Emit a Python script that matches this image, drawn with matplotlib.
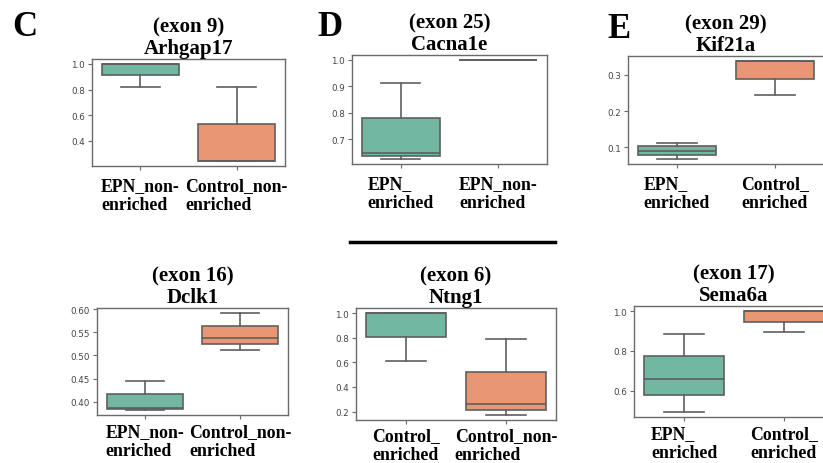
import matplotlib
matplotlib.use("Agg")
import matplotlib.pyplot as plt
from matplotlib.lines import Line2D

# box stats: whislo, q1, med, q3, whishi per group
arhgap17_labels = ["EPN_non-\nenriched", "Control_non-\nenriched"]
arhgap17_stats = [[0.82, 0.91, 1.0, 1.0, 1.0], [0.242, 0.242, 0.245, 0.53, 0.82]]
arhgap17_yticks = [0.4, 0.6, 0.8, 1.0]

cacna1e_labels = ["EPN_\nenriched", "EPN_non-\nenriched"]
cacna1e_stats = [[0.624, 0.635, 0.648, 0.781, 0.911], [1.0, 1.0, 1.0, 1.0, 1.0]]
cacna1e_yticks = [0.7, 0.8, 0.9, 1.0]

kif21a_labels = ["EPN_\nenriched", "Control_\nenriched"]
kif21a_stats = [[0.068, 0.079, 0.09, 0.1036, 0.1136], [0.243, 0.289, 0.338, 0.338, 0.338]]
kif21a_yticks = [0.1, 0.2, 0.3]

dclk1_labels = ["EPN_non-\nenriched", "Control_non-\nenriched"]
dclk1_stats = [[0.382, 0.385, 0.386, 0.417, 0.445], [0.512, 0.524, 0.538, 0.564, 0.592]]
dclk1_yticks = [0.40, 0.45, 0.50, 0.55, 0.60]

ntng1_labels = ["Control_\nenriched", "Control_non-\nenriched"]
ntng1_stats = [[0.614, 0.808, 1.0, 1.0, 1.0], [0.173, 0.214, 0.263, 0.523, 0.789]]
ntng1_yticks = [0.2, 0.4, 0.6, 0.8, 1.0]

sema6a_labels = ["EPN_\nenriched", "Control_\nenriched"]
sema6a_stats = [[0.492, 0.575, 0.658, 0.772, 0.885], [0.892, 0.945, 1.0, 1.0, 1.0]]
sema6a_yticks = [0.6, 0.8, 1.0]

titles = ["(exon 9)\nArhgap17", "(exon 25)\nCacna1e", "(exon 29)\nKif21a",
          "(exon 16)\nDclk1", "(exon 6)\nNtng1", "(exon 17)\nSema6a"]

colors = ["#71b7a1", "#e99675"]
line_c = "#5f5f5f"
W, H = 823, 464

fig = plt.figure(figsize=(W / 100, H / 100), dpi=100)


def add_panel(px, stats, labels, yticks, fmt, title, xpad=5):
    x0, y0, x1, y1 = px
    ax = fig.add_axes([x0 / W, 1 - y1 / H, (x1 - x0) / W, (y1 - y0) / H])
    bx = []
    for s, lab in zip(stats, labels):
        bx.append(dict(whislo=s[0], q1=s[1], med=s[2], q3=s[3], whishi=s[4],
                       fliers=[], label=lab))
    lp = dict(color=line_c, linewidth=1.2)
    res = ax.bxp(bx, positions=[0, 1], widths=0.8, patch_artist=True,
                 boxprops=dict(edgecolor=line_c, linewidth=1.2),
                 medianprops=lp, whiskerprops=lp, capprops=lp,
                 showfliers=False)
    for patch, c in zip(res["boxes"], colors):
        patch.set_facecolor(c)
    for cap in res["caps"]:
        xd = cap.get_xdata()
        m = (xd[0] + xd[1]) / 2
        cap.set_xdata([m - 0.2, m + 0.2])
    ax.set_xlim(-0.5, 1.5)
    ax.margins(y=0.05)
    ax.autoscale(axis="y")
    ax.set_yticks(yticks)
    ax.set_yticklabels([fmt.format(v) for v in yticks])
    for sp in ax.spines.values():
        sp.set_color("#6a6a6a")
        sp.set_linewidth(1.0)
    ax.tick_params(axis="y", labelsize=6.3, labelcolor="#444444", color="#6a6a6a",
                   length=3, width=0.8, pad=2)
    ax.tick_params(axis="x", color="#6a6a6a", length=3, width=0.8, pad=xpad)
    ax.set_xticks([0, 1])
    ax.set_xticklabels(labels, fontfamily="Liberation Serif", fontweight="bold",
                       fontsize=12.8, multialignment="left", linespacing=1.15)
    ax.set_title(title, fontfamily="Liberation Serif", fontweight="bold",
                 fontsize=15, linespacing=1.1, pad=4)
    return ax


add_panel((92, 60, 285, 167), arhgap17_stats, arhgap17_labels, arhgap17_yticks,
          "{:.1f}", titles[0])
add_panel((352, 56, 547, 165), cacna1e_stats, cacna1e_labels, cacna1e_yticks,
          "{:.1f}", titles[1])
add_panel((628, 57, 824, 165), kif21a_stats, kif21a_labels, kif21a_yticks,
          "{:.1f}", titles[2])
add_panel((97, 309, 288, 416), dclk1_stats, dclk1_labels, dclk1_yticks,
          "{:.2f}", titles[3], xpad=3)
add_panel((356, 309, 556, 421), ntng1_stats, ntng1_labels, ntng1_yticks,
          "{:.1f}", titles[4], xpad=2)
add_panel((634, 307, 834, 418), sema6a_stats, sema6a_labels, sema6a_yticks,
          "{:.1f}", titles[5], xpad=3)

for lt, x, y in [("C", 25, 28), ("D", 330, 28), ("E", 619, 29)]:
    fig.text(x / W, 1 - y / H, lt, fontfamily="Liberation Serif", fontweight="bold",
             fontsize=25, ha="center", va="center")

fig.add_artist(Line2D([350 / W, 555 / W], [1 - 243 / H, 1 - 243 / H],
                      color="black", linewidth=2.5))

fig.savefig("out.png", dpi=100)
